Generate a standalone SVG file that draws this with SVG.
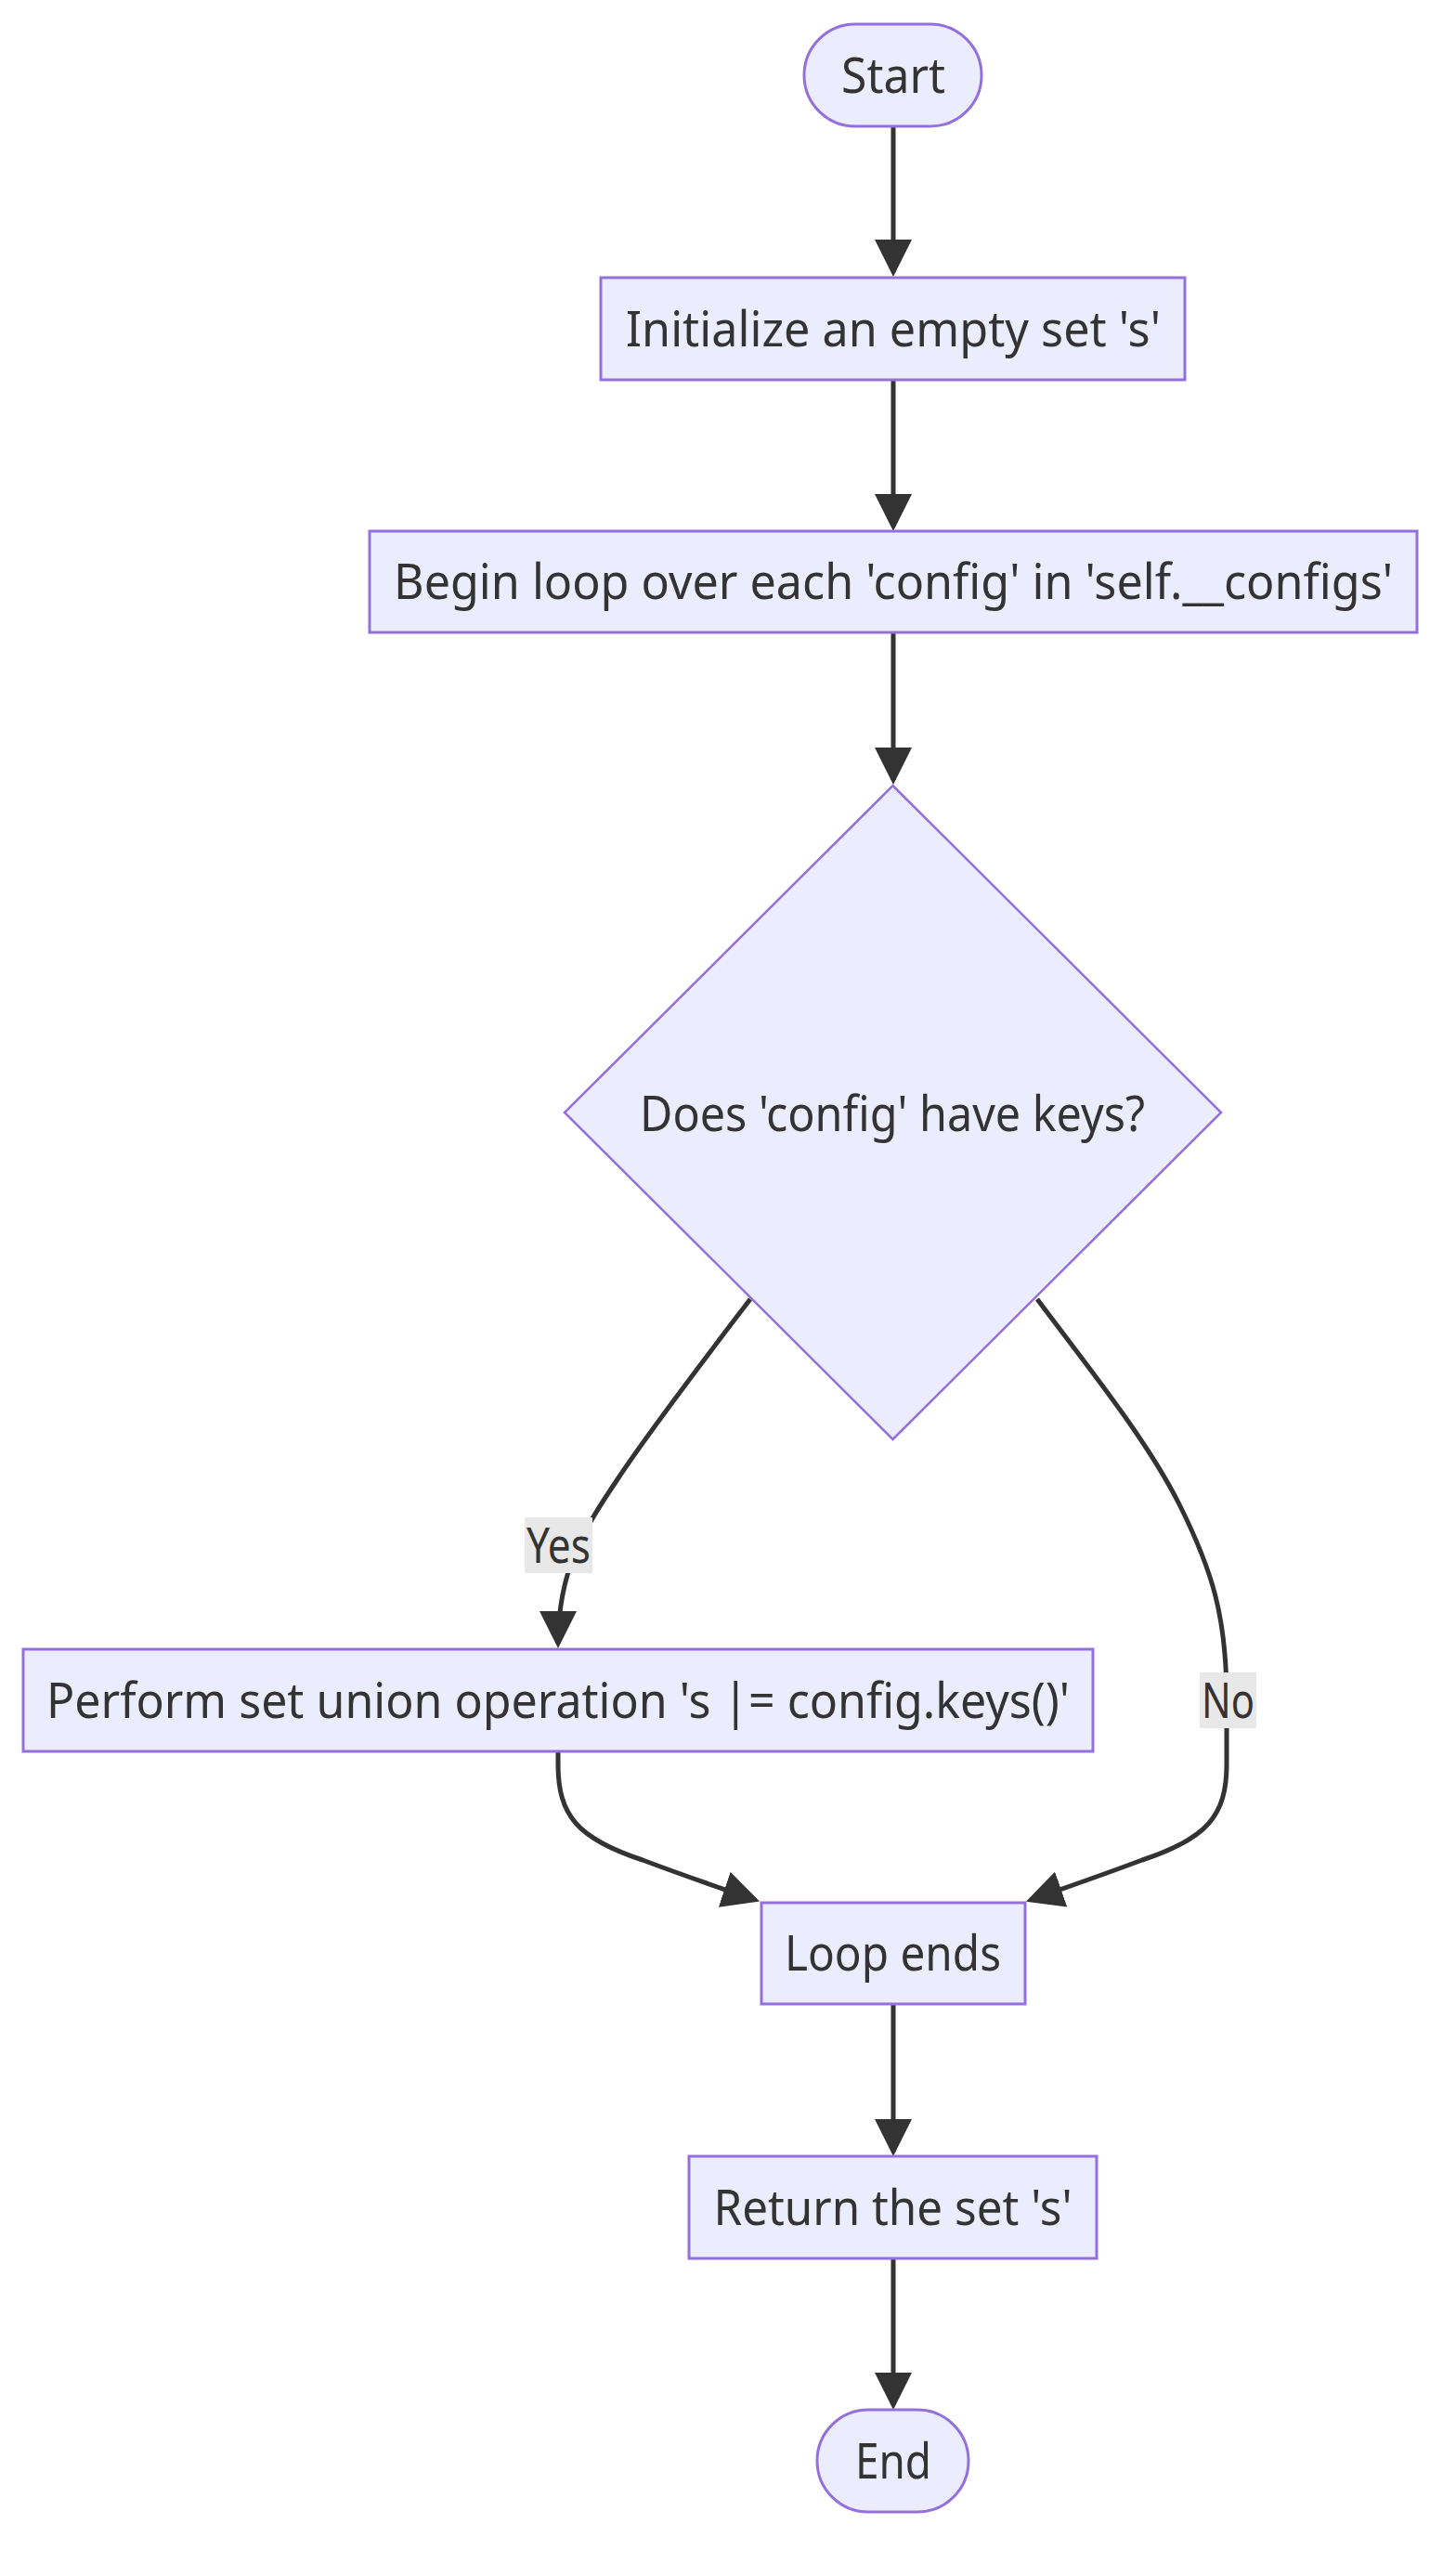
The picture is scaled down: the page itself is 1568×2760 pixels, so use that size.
<svg xmlns="http://www.w3.org/2000/svg" width="1568" height="2760" viewBox="0 0 1568 2760">
<style>
.node{fill:#ECECFF;stroke:#9370DB;stroke-width:3}
.dia{fill:#ECECFF;stroke:#9370DB;stroke-width:2.5}
.lbl{font-family:"Noto Sans","Liberation Sans",Arial,sans-serif;font-size:52px;fill:#333333;text-anchor:middle}
.edge{fill:none;stroke:#333333;stroke-width:5}
.elbg{fill:#e8e8e8}
</style>
<defs>
<marker id="arrow" markerUnits="userSpaceOnUse" viewBox="0 0 40 40" refX="35" refY="20" markerWidth="40" markerHeight="40" orient="auto">
<path d="M0,0 L40,20 L0,40 z" fill="#333333"/>
</marker>
</defs>
<rect width="1568" height="2760" fill="#ffffff"/>
<g id="connectors">
<path class="edge" d="M962,136 L962,293" marker-end="url(#arrow)"/>
<path class="edge" d="M962,409 L962,567" marker-end="url(#arrow)"/>
<path class="edge" d="M962,681 L962,840" marker-end="url(#arrow)"/>
<path class="edge" d="M808,1399 C760,1462 700,1540 665,1593 C630,1645 601,1690 601,1770" marker-end="url(#arrow)"/>
<path class="edge" d="M1117,1399 C1170,1470 1235,1550 1270,1620 C1305,1690 1321,1740 1321,1830 L1321,1900 C1321,1955 1300,1980 1230,2003 C1190,2018 1150,2032 1109.6,2046" marker-end="url(#arrow)"/>
<path class="edge" d="M601,1886 L601,1900 C601,1955 622,1980 692,2003 C732,2018 772,2032 813.4,2046" marker-end="url(#arrow)"/>
<path class="edge" d="M962,2158 L962,2317" marker-end="url(#arrow)"/>
<path class="edge" d="M962,2432 L962,2590" marker-end="url(#arrow)"/>
</g>
<g id="node-start">
<rect class="node" x="866" y="26" width="191" height="110" rx="55" ry="55"/>
<text class="lbl" x="962" y="100" textLength="112" lengthAdjust="spacingAndGlyphs">Start</text>
</g>
<g id="node-init">
<rect class="node" x="647" y="299" width="629" height="110"/>
<text class="lbl" x="962" y="373" textLength="576" lengthAdjust="spacingAndGlyphs">Initialize an empty set 's'</text>
</g>
<g id="node-loop">
<rect class="node" x="398" y="572" width="1128" height="109"/>
<text class="lbl" x="962" y="645" textLength="1076" lengthAdjust="spacingAndGlyphs">Begin loop over each 'config' in 'self.__configs'</text>
</g>
<g id="node-decision">
<polygon class="dia" points="961.5,846 1315,1198 961.5,1550 608,1198"/>
<text class="lbl" x="961" y="1218" textLength="544" lengthAdjust="spacingAndGlyphs">Does 'config' have keys?</text>
</g>
<g id="node-union">
<rect class="node" x="25" y="1776" width="1152" height="110"/>
<text class="lbl" x="601" y="1850" textLength="1102" lengthAdjust="spacingAndGlyphs">Perform set union operation 's |= config.keys()'</text>
</g>
<g id="node-loopends">
<rect class="node" x="820" y="2049" width="284" height="109"/>
<text class="lbl" x="961.5" y="2122" textLength="233" lengthAdjust="spacingAndGlyphs">Loop ends</text>
</g>
<g id="node-return">
<rect class="node" x="742" y="2322" width="439" height="110"/>
<text class="lbl" x="961.5" y="2396" textLength="386" lengthAdjust="spacingAndGlyphs">Return the set 's'</text>
</g>
<g id="node-end">
<rect class="node" x="880" y="2595" width="163" height="110" rx="55" ry="55"/>
<text class="lbl" x="962" y="2669" textLength="82" lengthAdjust="spacingAndGlyphs">End</text>
</g>
<g id="edge-labels">
<rect class="elbg" x="565" y="1634" width="73" height="60"/>
<text class="lbl" x="601.5" y="1683" textLength="69" lengthAdjust="spacingAndGlyphs">Yes</text>
<rect class="elbg" x="1292" y="1801" width="61" height="60"/>
<text class="lbl" x="1322.5" y="1850" textLength="57" lengthAdjust="spacingAndGlyphs">No</text>
</g>
</svg>
